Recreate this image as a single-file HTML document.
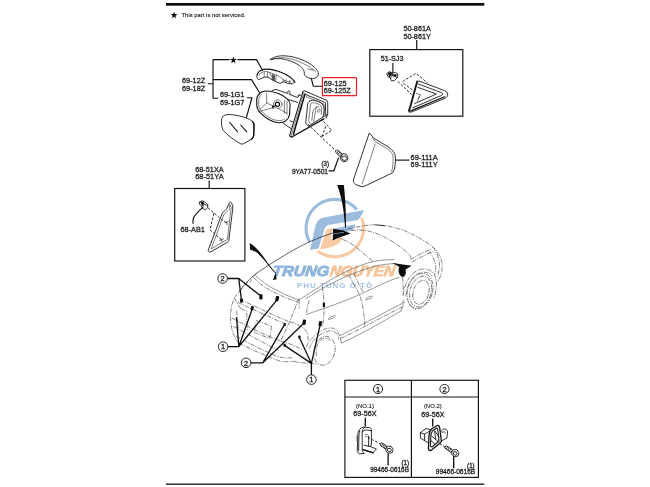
<!DOCTYPE html>
<html><head><meta charset="utf-8">
<style>
html,body{margin:0;padding:0;background:#fff;}
body{width:650px;height:487px;overflow:hidden;font-family:"Liberation Sans",sans-serif;}
svg{display:block;position:absolute;left:0;top:0;}
svg text{font-family:"Liberation Sans",sans-serif;fill:#1a1a1a;stroke:#1a1a1a;stroke-width:.28px;}

.p{fill:none;stroke:#1c1c1c;stroke-width:0.9;stroke-linecap:round;stroke-linejoin:round;}
.pt{fill:none;stroke:#2a2a2a;stroke-width:0.6;stroke-linecap:round;stroke-linejoin:round;}
.pw{fill:#fff;stroke:#1c1c1c;stroke-width:0.9;stroke-linecap:round;stroke-linejoin:round;}
.b{fill:none;stroke:#111;stroke-width:1.3;stroke-linecap:round;stroke-linejoin:round;}
.l{fill:none;stroke:#111;stroke-width:1.15;stroke-linecap:butt;stroke-linejoin:miter;}
.d{fill:none;stroke:#222;stroke-width:0.95;stroke-dasharray:2.6 1.6;}
.c{fill:none;stroke:#333;stroke-width:0.6;stroke-linecap:butt;stroke-linejoin:round;stroke-dasharray:4.5 1.2 1.2 1.2;}
.cs{fill:none;stroke:#444;stroke-width:0.55;stroke-linecap:round;stroke-linejoin:round;}
.cd{fill:none;stroke:#444;stroke-width:0.55;stroke-dasharray:2 1.2;}
.k{fill:#0a0a0a;stroke:none;}
.t{font-size:7.6px;}
</style></head>
<body>
<svg width="650" height="487" viewBox="0 0 650 487">
<defs><filter id="bl" x="-5%" y="-5%" width="110%" height="110%"><feGaussianBlur stdDeviation="0.4"/></filter></defs>
<rect x="0" y="0" width="650" height="487" fill="#fff"/>
<g filter="url(#bl)">
<!--LOGO-->
<g id="logo">
<path d="M309.9,242.5 A28.8,28.8 0 0 1 356.9,209.6" fill="none" stroke="#9bbcdd" stroke-width="3.1"/>
<path d="M361.7,217.8 A28.8,28.8 0 0 1 317.5,251.1" fill="none" stroke="#f9cba4" stroke-width="3.1"/>
<path fill="#9bbcdd" d="M310,250.1 L315.2,227 C316.4,221.4 319.4,218.4 324,217.6 L364,210 C362.6,214 360.6,217.6 357.8,220 L331,224.6 C327.6,225.2 325.4,226.6 324.6,229 L318.5,248.6 Z"/>
<path fill="#9bbcdd" d="M334.7,228.5 L355.5,224.2 C354.6,227 353.4,229.4 351.6,230.8 L333.1,234.7 Z"/>
<path fill="#f9cba4" d="M326.2,229.6 L333.1,228 L330.8,239.3 L343.2,237.6 C341.6,241.6 338,244.6 333,246.4 C329,247.8 324,248.8 320,249.3 Z"/>
<text x="272" y="276.2" transform="translate(272 276.2) skewX(-7) translate(-272 -276.2)" style="font-size:14.6px;font-weight:bold;font-style:italic;fill:#8fb5dc;stroke:#8fb5dc;stroke-width:.9px" textLength="56.6" lengthAdjust="spacingAndGlyphs">TRUNG</text>
<text x="329.4" y="276.2" transform="translate(329.4 276.2) skewX(-7) translate(-329.4 -276.2)" style="font-size:14.6px;font-weight:bold;font-style:italic;fill:#f7c49a;stroke:#f7c49a;stroke-width:.9px" textLength="65" lengthAdjust="spacingAndGlyphs">NGUYEN</text>
<text x="297" y="287.7" style="font-size:8px;font-weight:bold;fill:#a4c2e2;stroke:none" textLength="75.2" lengthAdjust="spacing">PHU TÙNG Ô TÔ</text>
</g>
<!-- FRAME -->
<rect x="166" y="3" width="318.3" height="2.7" fill="#0a0a0a"/>
<rect x="166" y="483.5" width="318.3" height="1.4" fill="#222"/>
<!-- NOTE -->
<g id="note">
<path class="k" d="M174.1,11.7 L174.9,14.1 L177.5,14.2 L175.5,15.7 L176.2,18.2 L174.1,16.7 L172.0,18.2 L172.7,15.7 L170.7,14.2 L173.3,14.1 Z"/>
<text x="181.5" y="17.3" style="font-size:5.6px;stroke-width:.12px" textLength="64" lengthAdjust="spacingAndGlyphs">This part is not serviced.</text>
</g>
<!--LABELS-->
<g id="labels" class="t">
<text x="182" y="83.4" textLength="23.2" lengthAdjust="spacingAndGlyphs">69-12Z</text>
<text x="182" y="90.9" textLength="23.2" lengthAdjust="spacingAndGlyphs">69-18Z</text>
<text x="219.9" y="97.3" textLength="24.5" lengthAdjust="spacingAndGlyphs">69-1G1</text>
<text x="219.9" y="105" textLength="24.5" lengthAdjust="spacingAndGlyphs">69-1G7</text>
<text x="323.8" y="85.5" textLength="22.8" lengthAdjust="spacingAndGlyphs">69-125</text>
<text x="323.8" y="93.2" textLength="27" lengthAdjust="spacingAndGlyphs">69-125Z</text>
<text x="403.4" y="31.3" textLength="27.4" lengthAdjust="spacingAndGlyphs">50-861A</text>
<text x="403.4" y="39.2" textLength="27.4" lengthAdjust="spacingAndGlyphs">50-861Y</text>
<text x="380.7" y="61.4" textLength="22.7" lengthAdjust="spacingAndGlyphs">51-SJ3</text>
<text x="410.6" y="159.6" textLength="27" lengthAdjust="spacingAndGlyphs">69-111A</text>
<text x="410.6" y="167" textLength="27" lengthAdjust="spacingAndGlyphs">69-111Y</text>
<text x="291.9" y="173.7" style="font-size:6.9px" textLength="36.1" lengthAdjust="spacingAndGlyphs">9YA77-0501</text>
<text x="321.6" y="166.4" style="font-size:6.4px" textLength="7.4" lengthAdjust="spacingAndGlyphs">(3)</text>
<text x="195.2" y="171.6" textLength="28.5" lengthAdjust="spacingAndGlyphs">68-51XA</text>
<text x="195.2" y="178.8" textLength="28.5" lengthAdjust="spacingAndGlyphs">68-51YA</text>
<text x="180.5" y="231.6" textLength="24.4" lengthAdjust="spacingAndGlyphs">68-AB1</text>
</g>
<!-- BOXES -->
<rect class="l" x="369.8" y="49.6" width="93" height="66.6"/>
<path class="l" d="M416.7,40 V49.6"/>
<rect class="l" x="174.7" y="188.5" width="70.2" height="72.5"/>
<path class="l" d="M209.2,180.5 V188.5"/>
<rect x="322.4" y="77.7" width="34.1" height="18" rx="0.8" fill="none" stroke="#ee2028" stroke-width="1.2"/>
<!-- TABLE -->
<g id="table">
<rect class="l" x="344.9" y="380.3" width="133.5" height="97.1"/>
<path class="l" d="M344.9,397 H478.4 M411.4,380.3 V477.4"/>
<circle class="l" cx="378" cy="389" r="4.6" style="stroke-width:.9"/>
<circle class="l" cx="444.5" cy="389" r="4.6" style="stroke-width:.9"/>
<text x="375.9" y="391.7" style="font-size:7.4px">1</text>
<text x="442.4" y="391.7" style="font-size:7.4px">2</text>
<text x="356" y="408" style="font-size:5.3px;stroke-width:.1px" textLength="17.9" lengthAdjust="spacingAndGlyphs">(NO.1)</text>
<text x="353.3" y="416.1" class="t" textLength="23.4" lengthAdjust="spacingAndGlyphs">69-56X</text>
<text x="423.9" y="408.3" style="font-size:5.3px;stroke-width:.1px" textLength="17.8" lengthAdjust="spacingAndGlyphs">(NO.2)</text>
<text x="421.3" y="416.5" class="t" textLength="23.2" lengthAdjust="spacingAndGlyphs">69-56X</text>
<text x="401.4" y="465.4" style="font-size:6.3px" textLength="7.6" lengthAdjust="spacingAndGlyphs">(1)</text>
<text x="370.2" y="472.2" style="font-size:6.9px" textLength="38.8" lengthAdjust="spacingAndGlyphs">99466-0616B</text>
<text x="467.1" y="467.7" style="font-size:6.3px" textLength="7.6" lengthAdjust="spacingAndGlyphs">(1)</text>
<text x="435.8" y="474" style="font-size:6.9px" textLength="39.4" lengthAdjust="spacingAndGlyphs">99466-0616B</text>
<path class="b" d="M365.3,417.8 V426.4 M432.7,418.5 V426.5 M388.1,453.3 V465.6 M453.7,456.1 V468.3" style="stroke-linecap:butt"/>
</g>
<!--PARTS-->
<g id="mirror">
<!-- bracket leaders -->
<path class="l" d="M207.8,83.7 H213 M213,59.6 V98.2 M213,59.6 H229.5 M237.5,59.6 H256.5 L262.6,70.3 M213,79.6 H251.5 L259.6,92.8 M213,98.2 H218.3 M246.9,97.7 H251.9 L246.3,117.8"/>
<path class="k" d="M233.4,56.5 L234.3,59.0 L236.9,59.1 L234.8,60.7 L235.6,63.2 L233.4,61.7 L231.2,63.2 L232.0,60.7 L229.9,59.1 L232.5,59.0 Z"/>
<!-- cover 69-125 -->
<path class="p" d="M270.3,59.6 C272,57.6 277,56 282,55.8 C291,55.6 300,58.5 308,62.6 C313,65.5 317,69 318.3,72.6 C319,76 316,78.6 312.6,78.6 C309,78.6 305.5,77 304.4,74.6 C304.6,71 303,68 299.3,65.4 C294,61.8 287,59.4 281,58.7 C276,58.3 272,59 270.3,59.6 Z"/>
<path class="pt" d="M272,59.6 C276,57.6 283,57 290,58.6 C299,60.8 309,65.6 315.5,71.5 M308,69.1 L314.1,70.3"/>
<path class="l" d="M311.3,78.6 L313.3,86.2 H322.4"/>
<!-- turn signal -->
<path class="b" style="stroke-width:1.2" d="M257.2,74.6 C257.6,73.2 258.4,72.2 259.4,71.4 C260.8,70.2 262.2,69.6 263.8,69.3 C266,68.9 268.4,69 270.5,69.3 C273,69.7 275.6,70.4 277.9,71.2 C280.4,72 283,73.1 285.2,74.2 C287.4,75.3 289.4,76.5 291.1,77.9 C292.8,79.3 294,80.8 294.8,82.3"/>
<path class="p" d="M257.2,74.6 L256.8,76.8 C257,78 257.6,79 258.3,79.7 L264.6,77.1 L267.9,77.1 L272.7,80.1 L276.4,82 L280.1,83.4 L283,81.9 L285.2,82.3 L287.4,83.4 L290.4,83.8 L292.6,83.6 L294.8,82.3"/>
<path class="pt" d="M259,75.4 C259.6,73.6 261.4,72.2 263.6,71.6 C265.6,71.2 267.6,71.4 269,72.3 L276.4,74.9 C279.6,76.4 282.4,78.4 284.5,80.5 M264.2,72.2 V77 M267.5,72 V77 M269.4,72.6 L272.2,77.4 M276.4,74.9 L275.6,81.4 M283,78.8 L283,81.9 M286,79.6 V82.6 M289.7,80.4 V83.6 M284.5,80.5 L290.6,82.2"/>
<path d="M272.3,74.4 L274.7,75.3 L274.6,80.9 L272.3,79.8 Z" fill="#555" stroke="#222" stroke-width=".5"/>
<!-- housing shell -->
<path class="b" style="stroke-width:1.1" d="M260.2,93.2 C258.2,94.6 256.8,97 256.7,99.6 L256.8,106 C257.2,109 258.8,111.6 261.1,113.6 C263.6,116 266.6,118.4 269.7,120.1 C272.4,121.6 275.4,122.4 278.4,122.7 C281.4,122.9 284.2,122.2 285.8,120.8 C288,119 289.3,116.8 289.6,114.6 L290.1,104.7 C290,102.4 288.8,100.2 287,98.6 C284.6,96.6 281.6,94.9 278.4,93.6 C275.6,92.5 272.6,91.6 269.7,91.2 C267,90.8 264.6,90.9 262.3,91.7 C261.5,92 260.8,92.6 260.2,93.2 Z"/>
<path class="pt" d="M261.6,94.6 C259.8,96 258.8,98 258.7,100.2 L258.8,105.6 C259.2,108.2 260.6,110.6 262.6,112.4 C265,114.6 267.8,116.8 270.6,118.3 C273,119.6 275.8,120.4 278.4,120.6 C280.8,120.8 283,120.3 284.4,119.2"/>
<path class="pt" d="M266.6,93.6 V102.9 L273.4,106 M259.2,111.5 L272.8,107.8 M278,108.4 L287,113.4 M287,101 V114.2 M284.4,100.2 V113 M266.6,102.9 L260,109.6"/>
<circle class="pt" cx="277.7" cy="104.1" r="4.3"/>
<circle class="b" cx="277.4" cy="104.3" r="2.1" style="stroke-width:1.2"/>
<path class="b" d="M272.6,107.2 L275.8,105.6 M272.4,106 L273.2,108.4" style="stroke-width:1.1"/>
<!-- body behind shell to base -->
<path class="p" d="M272.2,90.5 L276,89.4 L287,93.2 M287.8,93.4 V91.4 C288.3,90.6 289.4,90.6 289.9,91.4 V94.6 M290,94.6 L297.5,97.6 L299.6,95.2 M297.6,96 C298.2,94.4 300,94.2 300.6,95.4 M290,120.8 L293.2,122 M283.3,123.2 L291.3,128.8 M288.6,99.6 L297.6,102.4"/>
<!-- base -->
<path class="p" style="stroke-width:1.05" d="M302.9,91.6 L289.5,135.8 L291.6,137.3"/>
<path class="b" style="stroke-width:1.5" d="M304.9,94.2 L293.4,134.2"/>
<path class="pt" d="M303.9,92.8 L291.2,135.6"/>
<path class="p" d="M302.9,91.6 L304.6,90.8 L327.1,100.6 L327.7,102.6 L327.7,114.6 L325.9,118.2 M304.9,94.2 L325.4,102.6 L325.8,116.6"/>
<path class="b" style="stroke-width:1.4" d="M291.8,137 L323.8,118.8"/>
<path class="pt" d="M306,96.6 L324,104 V116.4"/>
<!-- base inner housing -->
<path class="p" d="M309.4,101.2 C311.4,99.4 316,100 320.4,102.6 C323.6,104.4 324.4,107 324.2,110.2 L323.6,116.6 L308.6,126 C306.8,125.4 305.6,123.8 305.8,121.8 L307.6,104.6 C307.8,103.2 308.4,102 309.4,101.2 Z"/>
<path class="pt" d="M311,103.2 C313,102 316.4,102.8 319.4,104.6 C321.4,106 321.8,108 321.6,110.4 L321.2,114.6 M310.6,104 L308.6,121.6 L310.2,123.4 M312.6,112.2 C313.6,108.4 316.6,106 319,107 M312.8,112.4 L311.8,120.4 M316.4,106.8 L313.6,121.8 M317.8,110.6 C318.2,108.8 319.8,108.6 320.2,110 C320.4,111.6 319,112.8 317.8,112.2 Z"/>
<!-- dashed to bolt -->
<path class="d" d="M307.7,124.2 L336,151 M320.8,118.6 L331.8,130.3 L321.8,136.6 M321.8,136.6 L325.8,126.4 M322,117.2 L328.4,114"/>
<!-- bolt 9YA77 -->
<path class="p" d="M335.6,151.6 L337.4,149.8 L342.6,154.4 L340.6,156.6 Z M336.9,152.8 L338.7,151 M338.2,154 L340,152.2 M339.5,155.2 L341.3,153.4"/>
<path class="p" d="M341,155.6 L342.8,153.6 L346.6,154.4 L348,157.8 L346.6,161.2 L343,161.8 L340.6,159.2 Z"/>
<path class="p" d="M342.2,156.4 L345.6,156 L346.8,158.6 L344.8,160.6 L342.4,159.8 Z"/>
<path class="l" d="M328.6,170.8 H333.8 L338.6,157.8"/>
<!-- glass 69-1G1 -->
<path class="p" d="M221.6,119.6 C221.8,117.4 223,115.8 224.7,115.3 C226.4,114.7 228,114.5 229.7,114.5 C235,114.8 241,116.2 245.7,117.8 C248.6,118.8 251,120 252.5,121.5 C253.6,122.6 254,123.8 254.1,125.2 L253.7,135.7 C253.4,137.4 252.6,138.6 251.2,139.4 L243.4,143.8 C242.4,144.2 241.6,144.2 240.8,143.8 C234,140.2 228,135.6 223.5,130.8 C222.4,129 221.8,127 221.6,124.6 Z"/>
<path class="b" d="M252.5,121.5 C253.6,122.6 254,123.8 254.1,125.2 L253.7,135.7 C253.4,137.4 252.6,138.6 251.2,139.4" style="stroke-width:1.3"/>
<path class="p" d="M229.7,122.4 L237.7,132 M240.8,125.2 L246.9,132" style="stroke-width:1.1;stroke-dasharray:1.4 .5"/>
</g>
<g id="p69111">
<path class="p" d="M369.2,133.3 L353.3,180.1 C353.3,182 354,183.4 355.4,184.4 L360.6,186.4 C362.6,186.8 364.4,186.4 365.9,185.6 L392.7,172.7 L394.5,169 C395.2,165 395.6,161 395.5,158.8 C395.4,156.4 395.2,154.8 394.5,153.3 C393,150.6 390.6,148.6 388.1,146.8 L374.2,138.5 Z"/>
<path class="pt" d="M375.1,144 L362.2,183.8 M372.6,137.6 L374.6,141.2 L386.6,148.4 C389.4,150.2 391.6,152.2 392.6,154.4 C393.4,157 393.2,163 392.4,168.4 L391.6,171.4"/>
<path class="l" d="M395.5,160.1 H409.3"/>
</g>
<g id="p50861">
<path class="l" d="M392.9,62.9 V72.7"/>
<!-- clip -->
<path class="p" d="M387,73.4 L389.4,71.6 L392.6,73 L395.6,72.4 L397.8,74 L397.4,77.4 L394.4,80.6 L391.4,80.8 L390.4,78 L388.6,77 Z M390.4,78 L392.8,75.6 L392.6,73 M392.8,75.6 L397.4,77.4 M388.6,77 L391,74.6"/>
<path class="k" d="M387.6,73 L390.8,72 L392.4,74.8 L389.6,77 Z M393,74.4 L396.6,74 L396.4,76 L393.4,76.6 Z"/>
<!-- dashed -->
<path class="d" d="M397.9,81.5 L411.7,94.6 M412.4,89.8 L403.6,83.4 C402.6,82.6 402.6,81.4 403.6,80.8 L415.9,73.4 L427.6,82.9"/>
<!-- triangle -->
<path class="b" d="M417.2,81.5 L409.2,110.6" style="stroke-width:1.8"/>
<path class="p" d="M417.2,81.5 L419,81 L444.3,90.5 C446.6,91.4 447.8,92.6 447.7,94.2 C447.6,96 446.8,97.4 445.4,98.2 L411.7,111.9 C410.4,112.4 409.2,112 408.8,111 M408.8,111 C408.4,109.8 409,109 409.6,108.6"/>
<path class="b" d="M411.4,110.6 L444.6,96.8" style="stroke-width:1.2"/>
<path class="p" d="M418.4,84 L441.4,92.6 C443,93.4 443,94.6 441.6,95.4 L412.8,107.8 M417.9,87.4 L436.4,94 L414.6,103.6"/>
<path class="pt" d="M416.4,93.4 L420.6,94.6 L417.4,101 M419.4,96 L418.4,99"/>
<circle class="pt" cx="409.4" cy="111.2" r="1.1"/>
</g>
<g id="p6851">
<path class="l" d="M193,223.7 V219.6 C193.4,216.4 199,210.6 203.6,206.6"/>
<path class="p" d="M199.6,201.8 L202.4,200.8 L205.8,202.4 L207.8,204.6 L207.6,207.8 L205.4,209.6 L202.6,208.8 L201.6,206.2 L199.8,204.4 Z M201.6,206.2 L204.6,204.4 L207.6,205.4"/>
<path class="k" d="M200.4,202 L203,201.4 L204.4,203.8 L202,205.4 Z"/>
<path class="d" d="M208.1,207.9 L222.3,220.2 L226,222.4 M213.9,213.4 L210,229.9 L219.1,237.7 L221,239.2"/>
<path class="p" d="M228.8,204 C229,202 230.4,201.4 231.2,202.6 L232.7,205.3 L232.7,209.2 L228.8,240.3 C228.6,241.2 228.2,241.8 227.5,242.2 L210.7,251.9 C209.4,252.2 208.2,251.6 208.1,250.6 L222.3,213.1 L226.2,209.2 Z"/>
<path class="pt" d="M229.8,204.6 L231.2,207.4 L227.4,239.4 L211.2,249 L224,214.2 L227.8,210.8 M229.8,204.6 L229.2,209.8"/>
<path class="p" style="stroke-width:.7" d="M225.2,222.8 L228,221.4 M226.8,222 L227,224.6 M219.6,240.4 L223.4,238.8 M221.4,239.6 L222.2,242"/>
</g>
<!--CAR-->
<g id="tparts">
<!-- part 1 bracket -->
<path class="p" d="M360.3,428.6 C361.4,427.6 363,427.2 364.7,427.2 L369.6,427.6 C370.8,428 371.4,428.8 371.4,429.9 V444.7"/>
<path class="p" d="M360.3,428.6 C358.8,430 358,431.8 357.9,433.6 L357.3,450.8 C357.4,452.4 358.4,453.6 359.7,453.9 L364,453.3"/>
<path class="p" d="M364.7,427.2 C363,428.4 362.2,430.2 362.2,432.3 V449.6 M362.2,432.3 C363,430.6 364.6,429.8 366.6,430 L371.4,430.6 M359.8,430.8 C359.2,432 359,433.2 359,434.6 L358.6,450.4 M364,453.3 C362.8,452.6 362.2,451.4 362.2,449.6"/>
<path class="p" d="M364,445.3 L370.2,446.5 L376.4,449 L373.3,452.7 L363.4,449.6 M368.6,436 V446.2 M371.4,444.7 L370.2,446.5"/>
<path class="b" d="M363.6,449.9 L373.2,452.9" style="stroke-width:1.5"/>
<path class="pt" d="M356.9,436 L356.9,441 M365.6,434.4 L367.6,434.8 M365.4,436.4 L366.6,436.6"/>
<path class="d" d="M367.7,437.3 L380.7,444"/>
<!-- bolt 1 -->
<path class="p" d="M380.2,444.6 L381.6,442.6 L387,446.6 L385.6,448.8 Z M381.6,445.6 L383,443.6 M383,446.6 L384.4,444.6 M384.4,447.6 L385.8,445.6"/>
<path class="p" d="M386,448.6 L387.6,446.2 L391.2,446.4 L393.2,449.2 L392.2,452.6 L388.8,453.4 L386.2,451.4 Z"/>
<path class="p" d="M387.8,448.6 L390.4,448.4 L391.4,450.4 L390,452 L388,451.2 Z"/>
<!-- part 2 -->
<path class="b" d="M437.7,425.3 L431.5,429 C430,430.4 429.2,433 429,435.8 L428.4,448.7 C428.6,450 429.6,450.8 430.9,450.6 L440.8,442.5 C441.4,441.6 441.4,440.6 441.2,439.6 L439.8,428.4 C439.6,426.6 438.8,425.4 437.7,425.3 Z"/>
<path class="p" style="stroke-width:1.1" d="M436.8,428 L432.6,430.8 C431.6,432 431,434 430.8,436.2 L430.4,446.4 L432,447 L439,441 L437.8,429.2 Z"/>
<path class="p" d="M420.4,432.7 L426,428.4 L430.6,429.8 M420.4,432.7 V438.2 L428.6,443 M420.4,432.7 L424.6,434.2 L429.4,431.2 M424.6,434.2 V440.6"/>
<path class="p" d="M440.6,432 C441.6,430 443.4,428.8 445,429 C446.8,429.4 447.8,431 447.5,433 L446.9,438.2 L441.6,440.8"/>
<path class="p" d="M431.5,435.8 L438.9,442.3 M435.2,431.4 L438.9,437 M434.6,431 L435.6,439 M431,440.6 L434.6,443.8 M442,432.6 C443,431.6 444.6,431.4 445.4,432.6"/>
<path class="d" d="M439.6,443.6 L445.6,447.4"/>
<!-- bolt 2 -->
<path class="p" d="M444.8,447.6 L446.2,445.6 L452.6,450 L451.2,452.2 Z M446.4,448.8 L447.8,446.8 M448,449.8 L449.4,447.8 M449.6,450.8 L451,448.8"/>
<path class="p" d="M451.8,452 L453.4,449.6 L457,449.8 L459,452.6 L458,456 L454.6,456.8 L452,454.8 Z"/>
<path class="p" d="M453.6,452 L456.2,451.8 L457.2,453.8 L455.8,455.4 L453.8,454.6 Z"/>
</g>
<g id="car">
<!-- far side silhouette: roof, windshield, hood -->
<path class="cs" style="stroke:#222;stroke-width:.7" d="M239.4,291.6 C243,286 250,278 257,272.9 C270,264 286,254 299,247 C312,240 326,234.6 340,231"/>
<path class="c" d="M340,231 C351,228 362,225.4 372.9,224.8 C383,224.6 394,227 403.2,230.2 C412,233.6 424,240 432.8,246.8 C437,250.6 440.6,256 441.9,262.5 C442.6,268 441.6,274 440.1,277 C439,280 437.6,282 436.4,282.8"/>
<!-- roof rear edge / rear window top (double) -->
<path class="cs" d="M255.8,275.4 C261,281 268,286 274.3,289 C283,293.6 291,297.6 299,300"/>
<path class="c" d="M253.6,277.4 C259,283.4 266,288.4 272.6,291.4 C281,295.6 289,299.4 297.6,302"/>
<!-- near side roof edge + window top -->
<path class="cs" d="M299,300 C307,295 315,289.6 323.6,284 C332,279 340,274.6 348.3,270.5 C357,266.6 365,263.6 372.9,261.6 C380,260 388,259.6 394,259.7"/>
<path class="cs" d="M306.4,298.4 C312,294.6 318,291 323.6,287.7 C333,282.4 343,277.6 353.2,273.6 C361,270.6 368,268 374,266.4 C381,264.6 389,263.6 396,263.6"/>
<!-- windshield top edge arc (roof front) & cowl arc -->
<path class="c" d="M335,237 C338.6,237.8 342,239 345,240.4 C349.6,242.6 353.6,245.2 357.3,248.1 C361.4,251.2 365,254.4 368.1,257.3 C369.8,258.6 371.4,260 372.7,261.2"/>
<path class="c" d="M351.2,230.6 C356,230 361,230 365,230.4 C372,231.6 378,233.8 383.5,236.5 C389,239.4 394,242.4 398.8,245.8 C403,249 407,252 409.6,255 C410.6,256.4 411,258 411.2,259.6"/>
<path class="cs" d="M375.8,225 L385,225.8" style="stroke:#222;stroke-width:.8"/>
<!-- hood / fender -->
<path class="c" d="M410.5,259.7 C417,255.6 425,251.6 431.8,248.7 M412,262 C419,258 427,254 433,251.6"/>
<path class="c" d="M429,250.5 C431.6,254 434,259 435.5,264.4 C436,268 435.6,272 434.6,275 M433,247 C436,251 438.4,256.6 439.4,262.4 C439.8,267 439,272 437.6,276"/>
<!-- beltline -->
<path class="cs" d="M306.6,314.4 C319,310 333,305.4 345.5,300.5 C358,295.4 371,289.4 382.4,283.9 C389,280.6 395,278.6 399,277.4"/>
<!-- C pillar rear -->
<path class="c" d="M309.4,300.5 C307.6,304.6 306.6,309.6 306.6,314.4 M299,300 C299.4,303 299.6,306 299,309"/>
<!-- door lines -->
<path class="c" d="M322.4,287 C323.4,293 324,300 324.2,307 C324.2,314 323.4,321 322.3,327.3"/>
<path class="c" d="M349.1,275.5 C352,281 356,288 359.3,294 C362,301 364,312 364.9,325.5"/>
<path class="c" d="M353.6,273.6 C356.6,279.6 360,286.4 363,292"/>
<!-- handles -->
<path class="cs" d="M328.4,318.6 C330,316.6 333.4,315.4 335.6,315.8 M328.6,319.6 L334.6,317.6 M365.6,299 C367.4,297 370.6,295.8 372.8,296.2 M365.8,300 L371.8,298"/>
<!-- body lower side: sill -->
<path class="cs" d="M339.9,335.6 C352,329.6 366,322.6 379,315.6 C389,310 398,305.6 404.6,302.3"/>
<path class="c" d="M340.6,338.6 C353,332.6 367,325.4 380,318.4 C390,313 398,309 404,306"/>
<path class="cs" d="M341.4,343.2 C353,337.6 367,330.6 380,323.2 C389,318 396,314 400.9,311"/>
<!-- mirror on near side -->
<path class="k" d="M392.4,263 L411.6,265.8 L405.6,269.6 L398.6,266.6 Z"/><ellipse class="k" cx="402.2" cy="271" rx="3.6" ry="6" transform="rotate(-8 402.2 271)"/>
<!-- front fender down to front wheel arch -->
<path class="c" d="M402.6,277 C403,283 403.4,289 403.1,294 M400.9,311 C402.4,309 403,304 403.2,300"/>
<path class="c" d="M403.1,296 C404,288 406.4,281.4 409.6,277.3 C413,272.4 418,269.4 422.5,269 C427.6,268.8 431.6,270.6 433.6,273.6 C435.6,276.6 436.6,280 436.4,282.8"/>
<path class="c" d="M406,296 C406.6,289 408.6,283.4 411.6,279.4 C414.6,275.4 418.6,272.6 422.6,272.2 C427,272 430.4,273.6 432.2,276.4"/>
<!-- front wheel -->
<ellipse class="c" cx="420" cy="291" rx="12.4" ry="18" transform="rotate(17 420 291)"/><ellipse class="c" cx="420.6" cy="291.6" rx="10.6" ry="15.8" transform="rotate(17 420.6 291.6)"/>
<ellipse class="c" cx="421" cy="292.4" rx="7.8" ry="12.2" transform="rotate(17 421 292.4)"/>
<path class="c" d="M409,303.6 C411,306.6 413.6,308.6 416,309.4 M436.4,282.8 C436.6,288 435.6,294 433.6,299"/>
<!-- rear: tailgate -->
<path class="c" d="M248.4,281.6 C243,287 238,293 235.2,296.6 C232,302 230.4,310 230.5,317 C230.6,324 231.6,330 233.3,333.6 C234.6,337.6 236.6,340.6 238.9,342.8"/>
<path class="c" d="M239.8,299.4 C256,306.6 272,314.6 288.8,321.6"/>
<path class="c" d="M237.6,302.4 C254,309.6 270,317.4 287,324.6"/>
<path class="c" d="M298.9,298.5 C296,306 292.6,314 289.7,321.6 C286.6,328.6 283.6,335 280.5,341"/>
<path class="c" d="M256.4,320.6 L271.6,326 L269.6,338.4 L254.2,332.4 Z"/>
<path class="c" d="M233.3,326.2 C248,334.6 263,342.6 278.6,350.2 M232,318 C247,326 262,334 280.5,341"/>
<path class="c" d="M238.9,342.8 C246,347 254,350.6 262,353.9 C268,356.6 274,359 280.5,361.3 C285,362 289.6,361.8 293.4,361.3"/>
<path class="c" d="M236,336 C250,344 264,351 278,356.6 C283,358 288,358.4 292,357.6"/>
<path class="c" d="M234.4,297.6 C236,301 238,305 240.6,308.4 M236.6,311 C237,317 237.6,323 238.6,328 M240.6,308.4 L246.6,311.4 L247.4,330"/>
<!-- rear quarter -->
<path class="c" d="M289.7,321.6 C295,323 300,325.4 304,328.6 C306.6,331 308,334 308.2,341 M280.5,341 C288,343 296,346 302,349.6"/>
<!-- rear wheel arch -->
<path class="c" d="M306.5,347 C307.6,343.6 309.6,340.6 312,338.4 C314.6,335.4 317.6,332.8 320.7,331 C324.4,329 328.4,327.8 331.8,328 C334.6,328.4 336.8,330 338,332.3 C339.4,334.6 340.2,336.6 340.4,338.4"/>
<path class="c" d="M309.4,348.6 C310.4,345.4 312.2,342.4 314.4,340.2 C316.8,337.4 319.6,335 322.4,333.4 C325.6,331.6 329,330.6 332,330.8 C334.4,331.2 336.2,332.6 337.2,334.6 C338.2,336.4 338.6,338 338.6,339.6"/>
<!-- rear wheel -->
<ellipse class="c" cx="324.4" cy="350.8" rx="10.5" ry="14.6" transform="rotate(14 324.4 350.8)"/>
<path class="c" d="M316.6,356 C315.4,350 316.8,344 320.4,340.4 C323.4,337.6 327.6,337.6 330.4,340.4"/>
<path class="c" d="M293.4,361.3 C299,362.6 305,363.2 310.6,363.2 L317,364.3 M340.4,338.4 L341.4,343.2"/>
<!-- far side hints -->
<path class="c" d="M257,272.9 C254,276 251.6,279 250,282"/>
<!-- black position marks -->
<path class="k" d="M275.9,272.6 L276.5,279.2 L272.8,280 Z"/>
<path class="k" d="M333.1,228.8 L343.1,230.6 L350.8,233.5 L337.7,238.1 L332.7,240.4 L333,234.2 Z"/><path d="M333,233.9 L344,232.4" stroke="#9bbcdd" stroke-width=".7" fill="none"/>
<!-- markers -->
<g class="k">
<rect x="240.1" y="298.4" width="2.8" height="4.4" rx=".8"/>
<rect x="259.3" y="294.2" width="3.2" height="5.2" rx=".8"/>
<rect x="275.6" y="296" width="3.2" height="5.2" rx=".8" transform="rotate(14 277.2 298.6)"/>
<rect x="250.8" y="306" width="2.8" height="4.4" rx=".9" transform="rotate(14 252.2 308.2)"/>
<rect x="283.8" y="323" width="2" height="3" rx=".6"/>
<rect x="302.6" y="319.6" width="3.2" height="5.2" rx=".8" transform="rotate(10 304.2 322.2)"/>
<rect x="318.8" y="321" width="3" height="5.2" rx=".8" transform="rotate(10 320.3 323.6)"/>
<rect x="283.4" y="343.8" width="2.4" height="3" rx=".7"/>
<rect x="298.3" y="335.6" width="2.2" height="3" rx=".7"/>
<rect x="322.8" y="302.6" width="2.2" height="4.6" rx=".7"/>
</g>
<!-- callout circles + leaders -->
<g class="l" style="stroke-width:1.3">
<path d="M227.1,278.5 H238.7 L241.4,299.6 M238.7,278.5 L260.2,295.6"/>
<path d="M227.6,346.7 H238.8 L236.5,317.3 M238.8,346.7 L252.2,309 M238.8,346.7 L277.2,299.6"/>
<path d="M250.6,362.8 H262.8 L284.4,324.6 M262.8,362.8 L304.1,323"/>
<path d="M311.4,375 V363.4 L284.8,345.6 M311.4,363.4 L299.4,337.6 M311.4,363.4 L320.2,324.6"/>
</g>
<g class="l" style="stroke-width:.9;fill:#fff">
<circle cx="222.6" cy="278.5" r="4.8"/>
<circle cx="223.1" cy="346.7" r="4.8"/>
<circle cx="246.1" cy="362.8" r="4.8"/>
<circle cx="311.4" cy="379.6" r="4.8"/>
</g>
<g style="font-size:7.4px">
<text x="220.5" y="281.2">2</text>
<text x="221" y="349.4">1</text>
<text x="244" y="365.5">2</text>
<text x="309.3" y="382.3">1</text>
</g>
<!-- black arrows -->
<path class="k" d="M249.8,243 C252.6,244.8 255.4,247.2 257.5,249.4 C260.2,252.2 262.6,255.6 264.6,258.6 C266.4,261.2 268.2,263.6 269.8,265.8 L275.9,272.8 L275.2,273.2 L268.7,265.9 C267,263.6 265.4,261.6 263.6,259.6 C261.6,257.2 259.6,255 257.5,253 C255.2,251.4 252.6,250.2 250,249.4 Z"/>
<path class="k" d="M337.2,184.9 L343.8,184.9 C345.2,196 346,212 346,227.6 L345,227.6 C344.4,212 341.6,196 337.2,184.9 Z"/>
</g>
</g>
</svg>
</body></html>
